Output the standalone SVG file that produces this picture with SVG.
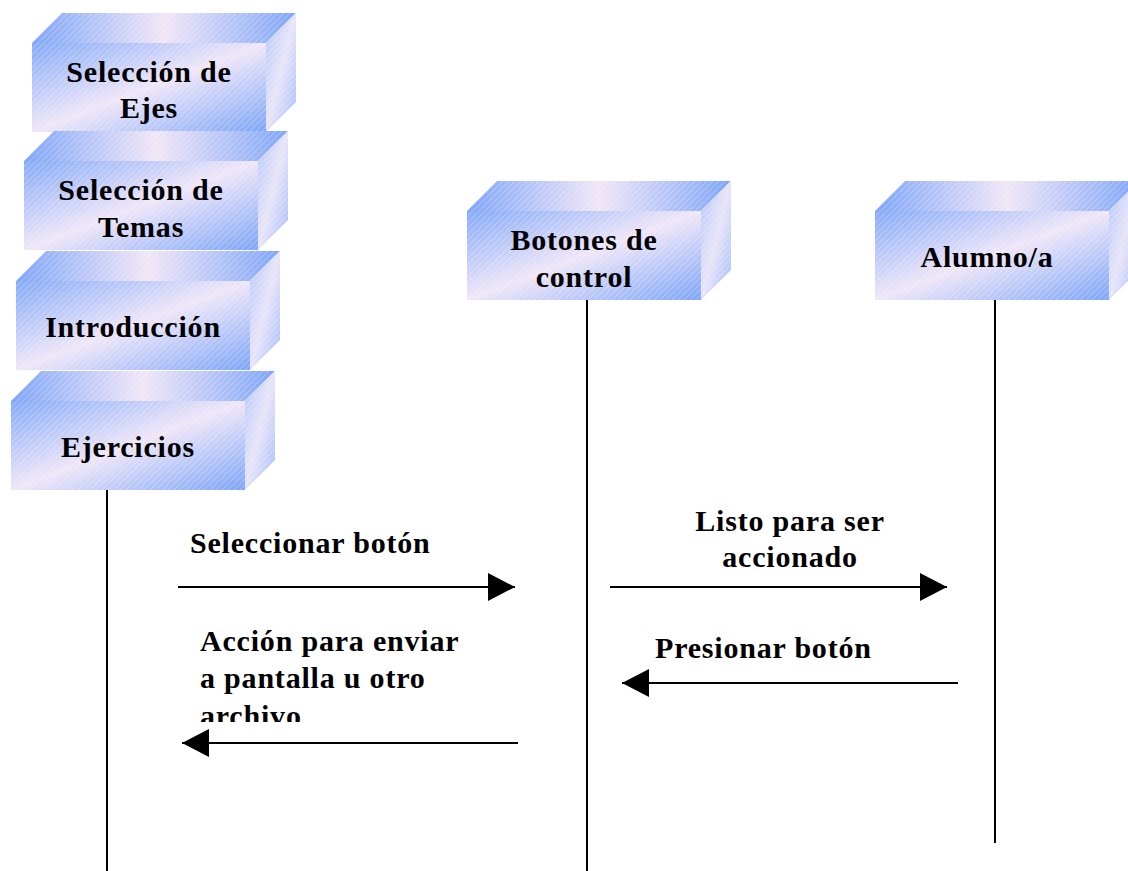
<svg xmlns="http://www.w3.org/2000/svg" width="1128" height="871" viewBox="0 0 1128 871">
<defs>
<linearGradient id="gFront" gradientUnits="objectBoundingBox" x1="0" y1="0" x2="1" y2="1">
<stop offset="0" stop-color="#86abfb"/>
<stop offset="0.5" stop-color="#efe6f8"/>
<stop offset="1" stop-color="#7ea6fb"/>
</linearGradient>
<linearGradient id="gTop" gradientUnits="objectBoundingBox" x1="0" y1="0" x2="1" y2="0">
<stop offset="0" stop-color="#80a6fc"/>
<stop offset="0.5" stop-color="#f1e6f6"/>
<stop offset="1" stop-color="#80a6fc"/>
</linearGradient>
<linearGradient id="gSide" gradientUnits="objectBoundingBox" x1="0" y1="0" x2="1" y2="1">
<stop offset="0" stop-color="#b5c8fb"/>
<stop offset="0.5" stop-color="#e8e4f8"/>
<stop offset="1" stop-color="#a4bdfb"/>
</linearGradient>
<pattern id="hatch" patternUnits="userSpaceOnUse" width="6" height="6">
<path d="M0 6 L6 0" stroke="#ffffff" stroke-opacity="0.3" stroke-width="1"/>
</pattern>
<g id="box">
<path d="M0 30 L30 0 L264 0 L234 30 Z" fill="url(#gTop)"/>
<path d="M234 30 L264 0 L264 89 L234 119 Z" fill="url(#gSide)"/>
<rect x="0" y="30" width="234" height="89" fill="url(#gFront)"/>
<path d="M0 30 L30 0 L264 0 L264 89 L234 119 L0 119 Z" fill="url(#hatch)"/>
</g>
<marker id="ah" markerUnits="userSpaceOnUse" markerWidth="28" markerHeight="30" refX="27" refY="15" orient="auto">
<path d="M0 1 L27 15 L0 29 Z" fill="#000"/>
</marker>
<clipPath id="clipTxt"><rect x="0" y="600" width="600" height="122"/></clipPath>
</defs>
<style>
text{font-family:"Liberation Serif","Times New Roman",serif;font-weight:bold;font-size:30px;letter-spacing:0.8px;fill:#000}
.c{text-anchor:middle}
.ll{stroke:#000;stroke-width:2;fill:none}
.msg{stroke:#000;stroke-width:2;fill:none;marker-end:url(#ah)}
</style>
<rect width="1128" height="871" fill="#fff"/>
<g id="connectors">
<line class="ll" x1="107" y1="490" x2="107" y2="871"/>
<line class="ll" x1="587" y1="300" x2="587" y2="871"/>
<line class="ll" x1="995" y1="300" x2="995" y2="843"/>
<line class="msg" x1="178" y1="587" x2="515" y2="587"/>
<line class="msg" x1="610" y1="587" x2="947" y2="587"/>
<line class="msg" x1="958" y1="683" x2="622" y2="683"/>
<line class="msg" x1="518" y1="743" x2="182" y2="743"/>
<text x="190" y="553">Seleccionar botón</text>
<text class="c" x="790" y="531">Listo para ser</text>
<text class="c" x="790" y="567">accionado</text>
<text x="655" y="658">Presionar botón</text>
<g clip-path="url(#clipTxt)">
<text x="200" y="651">Acción para enviar</text>
<text x="200" y="688">a pantalla u otro</text>
<text x="200" y="726">archivo</text>
</g>
</g>
<g id="node-ejes">
<use href="#box" x="32" y="13"/>
<text class="c" x="149" y="82">Selección de</text>
<text class="c" x="149" y="118">Ejes</text>
</g>
<g id="node-temas">
<use href="#box" x="24" y="131"/>
<text class="c" x="141" y="200">Selección de</text>
<text class="c" x="141" y="237">Temas</text>
</g>
<g id="node-intro">
<use href="#box" x="16" y="251"/>
<text class="c" x="133" y="337">Introducción</text>
</g>
<g id="node-ejercicios">
<use href="#box" x="11" y="371"/>
<text class="c" x="128" y="457">Ejercicios</text>
</g>
<g id="node-botones">
<use href="#box" x="467" y="181"/>
<text class="c" x="584" y="250">Botones de</text>
<text class="c" x="584" y="287">control</text>
</g>
<g id="node-alumno">
<use href="#box" x="875" y="181"/>
<text class="c" x="987" y="267">Alumno/a</text>
</g>
</svg>
